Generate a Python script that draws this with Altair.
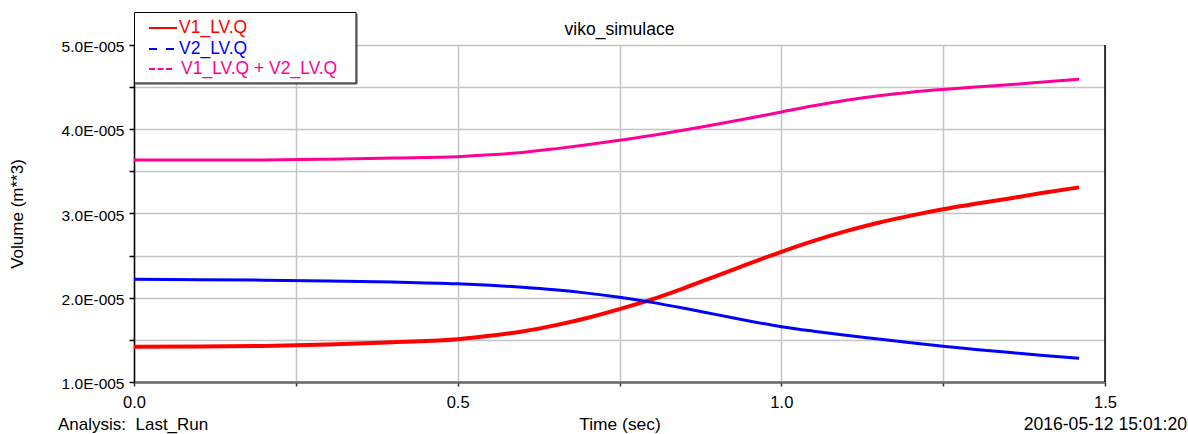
import altair as alt
import pandas as pd

# ---- data (volumes in units of 1E-005 m**3) ----
time_s = [0.0, 0.1, 0.2, 0.3, 0.4, 0.5, 0.55, 0.6, 0.65, 0.7, 0.75, 0.8,
          0.85, 0.9, 0.95, 1.0, 1.05, 1.1, 1.15, 1.2, 1.25, 1.3, 1.35, 1.4, 1.46]
v1_lv = [1.419, 1.420, 1.427, 1.445, 1.473, 1.507, 1.548, 1.600, 1.672, 1.760,
         1.865, 1.980, 2.115, 2.260, 2.405, 2.545, 2.675, 2.790, 2.890, 2.975,
         3.050, 3.115, 3.175, 3.240, 3.310]
v2_lv = [2.219, 2.215, 2.209, 2.200, 2.186, 2.165, 2.148, 2.125, 2.095, 2.055,
         2.005, 1.945, 1.875, 1.800, 1.725, 1.657, 1.603, 1.555, 1.510, 1.465,
         1.423, 1.387, 1.352, 1.318, 1.281]
v_sum = [3.635, 3.635, 3.636, 3.645, 3.659, 3.675, 3.696, 3.725, 3.767, 3.815,
         3.870, 3.925, 3.990, 4.060, 4.130, 4.205, 4.278, 4.343, 4.398, 4.440,
         4.473, 4.502, 4.527, 4.558, 4.593]

series_names = ["V1_LV.Q", "V2_LV.Q", "V1_LV.Q + V2_LV.Q"]
series_colors = ["#ff0000", "#0000ff", "#ff0096"]
series_widths = [4, 3, 3]
y_ticks = [1e-5 * k / 2 for k in range(2, 11)]
x_ticks = [0.0, 0.25, 0.5, 0.75, 1.0, 1.25, 1.5]

title_text = "viko_simulace"
x_title = "Time (sec)"
y_title = "Volume (m**3)"
analysis_text = "Analysis:\u00a0\u00a0Last_Run"
date_text = "2016-05-12 15:01:20"

FONT = "Liberation Sans"
W, H = 971, 337

def frame(vals, name):
    return pd.DataFrame({"t": time_s, "v": [x * 1e-5 for x in vals], "s": name})

x_enc = alt.X("t:Q", scale=alt.Scale(domain=[0, 1.5], nice=False),
              axis=alt.Axis(values=x_ticks,
                            labelExpr="round(datum.value*4) % 2 == 0 ? format(datum.value, '.1f') : ''",
                            grid=True, gridColor="#c4c4c4", gridWidth=1.5,
                            domainColor="#666666", domainWidth=2.5,
                            tickColor="#333333", tickSize=4, tickWidth=1.5,
                            labelPadding=8, labelFontSize=16.5, labelColor="#000000",
                            labelFont=FONT, labelFlush=False,
                            title=x_title, titleFont=FONT, titleFontSize=17.4,
                            titleFontWeight="normal", titleColor="#000000",
                            titlePadding=5))
y_enc = alt.Y("v:Q", scale=alt.Scale(domain=[1e-5, 5e-5], nice=False, zero=False),
              axis=alt.Axis(values=y_ticks,
                            labelExpr="round(datum.value*2e5) % 2 == 0 ? format(datum.value*1e5, '.1f') + 'E-005' : ''",
                            grid=True, gridColor="#c4c4c4", gridWidth=1.5,
                            domainColor="#000000", domainWidth=1.5,
                            tickColor="#000000", tickSize=5, tickWidth=1.5,
                            labelPadding=5, labelFontSize=15.5, labelColor="#000000",
                            labelFont=FONT, labelFlush=False, labelBaseline="middle",
                            labelOffset=1.5,
                            title=y_title, titleFont=FONT, titleFontSize=17,
                            titleFontWeight="normal", titleColor="#000000",
                            titleX=-117, titleY=168.5, titleAlign="center",
                            titleBaseline="middle"))

lines = []
for vals, name, col, sw in zip([v1_lv, v2_lv, v_sum], series_names, series_colors, series_widths):
    lines.append(alt.Chart(frame(vals, name)).mark_line(
        color=col, strokeWidth=sw, interpolate="monotone").encode(x=x_enc, y=y_enc))

one = pd.DataFrame({"k": [0]})

right_border = alt.Chart(one).mark_rule(color="#000000", strokeWidth=1.5).encode(
    x=alt.value(W), y=alt.value(0), y2=alt.value(H))

# legend box (drawn manually to keep per-entry colours and dash styles)
legend_box = alt.Chart(one).mark_rect(fill="white", stroke="#000000", strokeWidth=1).encode(
    x=alt.value(0.5), x2=alt.value(222), y=alt.value(-32.5), y2=alt.value(38))
legend_shadow = alt.Chart(one).mark_rule(color="#444444", strokeWidth=1).encode(
    x=alt.value(223), y=alt.value(-31), y2=alt.value(39))
legend_shadow2 = alt.Chart(one).mark_rule(color="#444444", strokeWidth=1).encode(
    x=alt.value(2), x2=alt.value(223), y=alt.value(39))

row_y = [-17, 4, 24]
dashes = [[1, 0], [8, 9], [6, 2.5]]
seg_end = [43, 43, 40]
text_x = [45, 45, 47]
legend_layers = []
for name, col, yy, dsh, xe, tx in zip(series_names, series_colors, row_y, dashes, seg_end, text_x):
    legend_layers.append(alt.Chart(one).mark_rule(color=col, strokeWidth=2, strokeDash=dsh).encode(
        x=alt.value(15), x2=alt.value(xe), y=alt.value(yy)))
    legend_layers.append(alt.Chart(pd.DataFrame({"lab": [name]})).mark_text(
        align="left", baseline="middle", font=FONT, fontSize=17.5, color=col).encode(
        x=alt.value(tx), y=alt.value(yy), text="lab:N"))

title_mark = alt.Chart(pd.DataFrame({"lab": [title_text]})).mark_text(
    align="center", baseline="middle", font=FONT, fontSize=17.5, color="#000000").encode(
    x=alt.value(W / 2), y=alt.value(-15), text="lab:N")
footer_left = alt.Chart(pd.DataFrame({"lab": [analysis_text]})).mark_text(
    align="left", baseline="middle", font=FONT, fontSize=17, color="#000000").encode(
    x=alt.value(-76), y=alt.value(380), text="lab:N")
footer_right = alt.Chart(pd.DataFrame({"lab": [date_text]})).mark_text(
    align="right", baseline="middle", font=FONT, fontSize=17.6, color="#000000").encode(
    x=alt.value(1053), y=alt.value(380), text="lab:N")

chart = alt.layer(
    *lines, right_border, legend_shadow, legend_shadow2, legend_box, *legend_layers,
    title_mark, footer_left, footer_right
).properties(
    width=W, height=H,
    autosize=alt.AutoSizeParams(type="none"),
    padding={"left": 134, "top": 45, "right": 83, "bottom": 52},
).configure_view(
    stroke="#666666", strokeWidth=2.5
).configure(background="white")

chart.save("out.html", embed_options={"renderer": "svg", "actions": False})
